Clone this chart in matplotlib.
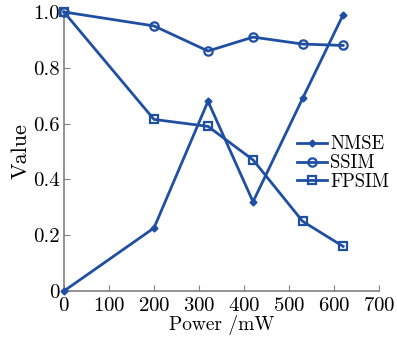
import matplotlib
matplotlib.use('Agg')
import matplotlib.pyplot as plt

power = [0, 200, 320, 420, 530, 620]
nmse = [0.0, 0.226, 0.68, 0.32, 0.69, 0.99]
ssim = [1.0, 0.95, 0.86, 0.91, 0.885, 0.88]
fpsim = [1.0, 0.615, 0.59, 0.47, 0.25, 0.16]

plt.rcParams['font.family'] = ['cmr10', 'DejaVu Serif']
plt.rcParams['axes.formatter.use_mathtext'] = True
plt.rcParams['mathtext.fontset'] = 'cm'

blue = '#1f4fa3'
fig = plt.figure(figsize=(3.97, 3.42), dpi=100)
ax = fig.add_axes([0.161, 0.149, 0.794, 0.816])

ax.plot(power, nmse, color=blue, lw=2, marker='D', ms=3.5, mfc=blue,
        label='NMSE', clip_on=False, zorder=3)
ax.plot(power, ssim, color=blue, lw=2, marker='o', ms=6, mfc='none', mew=1.6,
        label='SSIM', clip_on=False, zorder=3)
ax.plot(power, fpsim, color=blue, lw=2, marker='s', ms=6, mfc='none', mew=1.6,
        label='FPSIM', clip_on=False, zorder=3)

ax.set_xlim(0, 700)
ax.set_ylim(0, 1.0)
ax.set_xticks(range(0, 701, 100))
ax.set_yticks([0, 0.2, 0.4, 0.6, 0.8, 1.0])
ax.set_yticklabels(['0', '0.2', '0.4', '0.6', '0.8', '1.0'])
for s in ['top', 'right']:
    ax.spines[s].set_visible(False)
for s in ['left', 'bottom']:
    ax.spines[s].set_color('#808080')
    ax.spines[s].set_linewidth(1.2)
ax.tick_params(direction='in', length=4, color='#808080', labelsize=15)
ax.tick_params(axis='x', pad=4)
ax.tick_params(axis='y', pad=3)
ax.set_xlabel('Power /mW', fontsize=14, labelpad=0)
ax.set_ylabel('Value', fontsize=16, labelpad=2)

ax.legend(loc='upper left', bbox_to_anchor=(0.74, 0.558), frameon=False,
          fontsize=13.5, handlelength=1.6, handletextpad=0.15, labelspacing=0.05,
          borderpad=0, borderaxespad=0)

plt.savefig('out.png', dpi=100)
